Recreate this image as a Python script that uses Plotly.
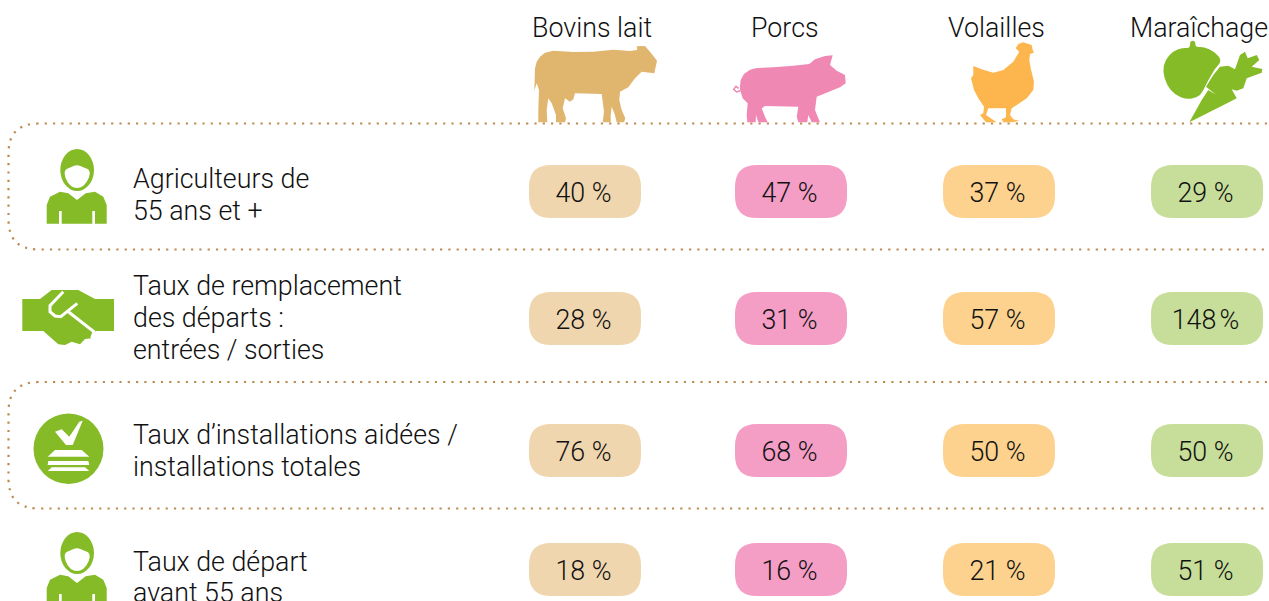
import plotly.graph_objects as go

# ---------- data ----------
species = ["Bovins lait", "Porcs", "Volailles", "Maraîchage"]
row_labels = [["Agriculteurs de", "55 ans et +"],
              ["Taux de remplacement", "des départs :", "entrées / sorties"],
              ["Taux d’installations aidées /", "installations totales"],
              ["Taux de départ", "avant 55 ans"]]
label_line_y = [[179, 211], [286, 318, 350], [435, 467], [562, 593]]
bovins = ["40 %", "28 %", "76 %", "18 %"]
porcs = ["47 %", "31 %", "68 %", "16 %"]
volailles = ["37 %", "57 %", "50 %", "21 %"]
maraichage = ["29 %", "148\u202f%", "50 %", "51 %"]
series = [bovins, porcs, volailles, maraichage]

pill_colors = ["#F0D6AF", "#F49DC5", "#FDD28F", "#C7DE9A"]
col_x = [585, 791, 999, 1207]
header_x = [592, 785, 996.5, 1198.5]
row_y = [191.5, 318.5, 450.5, 569.5]
text_y = [195.5, 322.5, 454.5, 573.5]

COW, PIG, HEN, GREEN, DOT, INK = "#E0B56E", "#F088B4", "#FDB64D", "#84BB27", "#BE8A52", "#111111"
FONT = "Roboto"
SIZE = 26.8
WEIGHT = 300


def poly(points, ox, oy, dy=0, close=True):
    d = "M" + " L".join(f"{ox + x / 3:.1f},{oy + dy + y / 3:.1f}" for x, y in points)
    return d + (" Z" if close else "")


def smooth(points, ox, oy, dy=0):
    """Closed outline drawn through midpoints with quadratic curves."""
    p = [(ox + x / 3, oy + dy + y / 3) for x, y in points]
    n = len(p)
    mid = lambda a, b: ((a[0] + b[0]) / 2, (a[1] + b[1]) / 2)
    s = mid(p[-1], p[0])
    d = f"M{s[0]:.1f},{s[1]:.1f}"
    for i in range(n):
        m = mid(p[i], p[(i + 1) % n])
        d += f" Q{p[i][0]:.1f},{p[i][1]:.1f} {m[0]:.1f},{m[1]:.1f}"
    return d + " Z"


def pill(cx, cy, hw=56, hh=26.5, r=22):
    x0, x1, y0, y1 = cx - hw, cx + hw, cy - hh, cy + hh
    return (f"M{x0 + r},{y0} L{x1 - r},{y0} Q{x1},{y0} {x1},{y0 + r} L{x1},{y1 - r} Q{x1},{y1} {x1 - r},{y1} "
            f"L{x0 + r},{y1} Q{x0},{y1} {x0},{y1 - r} L{x0},{y0 + r} Q{x0},{y0} {x0 + r},{y0} Z")


def band(y0, y1, x0=8.5, x1=1300, r=30):
    return (f"M{x1},{y0 + r} Q{x1 - 3},{y0} {x1 - r - 3},{y0} L{x0 + r},{y0} Q{x0},{y0} {x0},{y0 + r} "
            f"L{x0},{y1 - r} Q{x0},{y1} {x0 + r},{y1} L{x1 - r - 3},{y1} Q{x1 - 3},{y1} {x1},{y1 - r}")


cow = [(45, 205), (50, 185), (60, 170), (75, 158), (100, 152), (160, 156), (220, 155), (280, 149), (330, 153),
       (352, 150), (350, 139), (375, 138), (390, 155), (411, 182), (403, 220), (365, 215), (345, 235), (325, 262),
       (300, 275), (298, 300), (305, 330), (316, 355), (312, 367), (290, 367), (285, 345), (275, 320), (272, 345),
       (272, 367), (248, 367), (252, 335), (245, 282), (165, 280), (160, 298), (150, 305), (135, 295), (128, 325),
       (138, 355), (135, 367), (108, 367), (108, 345), (95, 310), (85, 295), (80, 330), (82, 367), (55, 367),
       (55, 330), (57, 270), (50, 250), (43, 272)]
pig = [(660, 258), (662, 240), (672, 222), (690, 209), (710, 204), (760, 202), (820, 197), (868, 192), (885, 178),
       (915, 168), (938, 166), (930, 195), (950, 212), (975, 225), (977, 250), (960, 262), (890, 290), (885, 330),
       (895, 355), (900, 367), (875, 367), (865, 345), (862, 367), (835, 367), (830, 350), (835, 320), (735, 318),
       (725, 325), (735, 350), (743, 367), (715, 367), (708, 345), (707, 367), (682, 367), (680, 345), (683, 310),
       (668, 295), (660, 270)]
pig_tail = [(660, 272), (650, 276), (641, 268), (648, 259), (656, 265)]
hen = [(220, 198), (245, 208), (280, 218), (310, 210), (340, 185), (358, 155), (347, 145), (355, 132), (370, 127),
       (395, 135), (398, 150), (402, 158), (390, 162), (388, 180), (392, 205), (402, 245), (400, 270), (380, 295),
       (350, 315), (335, 325), (330, 345), (340, 358), (358, 362), (335, 367), (310, 367), (305, 358), (318, 352),
       (318, 325), (265, 325), (258, 345), (280, 360), (290, 367), (258, 367), (240, 345), (250, 340), (252, 320),
       (235, 295), (222, 270), (213, 235), (220, 225)]
apple = [(870, 122), (886, 122), (886, 142), (910, 140), (945, 155), (966, 183), (945, 205), (925, 240), (905, 280),
         (890, 293), (860, 298), (825, 285), (800, 255), (788, 215), (795, 180), (820, 153), (850, 143), (870, 145)]
carrot = [(868, 367), (905, 300), (925, 270), (948, 284), (918, 260), (940, 225), (960, 200), (985, 197), (1005, 208),
          (1020, 165), (1035, 155), (1043, 175), (1070, 165), (1078, 180), (1055, 200), (1087, 207), (1085, 218),
          (1040, 235), (1030, 265), (1010, 272), (995, 268), (1010, 295), (990, 305)]
face = [(193, 165), (210, 158), (231, 148), (252, 158), (270, 165), (268, 190), (250, 215), (231, 220), (212, 215),
        (195, 190)]
body = [(140, 326), (140, 270), (150, 245), (180, 230), (205, 235), (231, 255), (257, 235), (285, 230), (310, 245),
        (320, 270), (320, 326), (285, 326), (285, 288), (277, 288), (277, 326), (185, 326), (185, 288), (177, 288),
        (177, 326)]
hands = [(67, 552), (120, 552), (155, 525), (235, 525), (285, 552), (342, 552), (342, 648), (288, 648), (275, 670),
         (255, 672), (240, 688), (215, 680), (195, 690), (175, 688), (130, 648), (67, 648)]
hook = [(190, 530), (150, 572), (150, 590), (165, 603), (182, 605), (232, 565)]
finger = [(205, 590), (282, 650), (275, 670)]
check = [(165, 185), (185, 178), (208, 200), (238, 155), (248, 152), (218, 225), (198, 225)]
layers = [[(165, 240), (245, 240), (268, 260), (143, 260)],
          [(145, 273), (265, 273), (268, 285), (143, 285)],
          [(155, 292), (255, 292), (268, 303), (143, 303)]]

shapes = []


def fill(path, color):
    shapes.append(dict(type="path", path=path, fillcolor=color, line=dict(width=0), layer="above"))


def stroke(path, color, w):
    shapes.append(dict(type="path", path=path, line=dict(color=color, width=w), layer="above"))


# dotted bands
for y0, y1 in [(123.5, 249.5), (382, 508.5)]:
    shapes.append(dict(type="path", path=band(y0, y1), line=dict(color=DOT, width=2.2, dash="2.2px,6.1px"),
                       layer="below"))

# pills
for xc, color in zip(col_x, pill_colors):
    for yc in row_y:
        shapes.append(dict(type="path", path=pill(xc, yc), fillcolor=color, line=dict(width=0), layer="below"))

# silhouettes
fill(poly(cow, 520, 0), COW)
fill(poly(pig, 520, 0), PIG)
stroke(poly(pig_tail, 520, 0, close=False), PIG, 1.5)
fill(poly(hen, 900, 0), HEN)
fill(smooth(apple, 900, 0), GREEN)
fill(poly(carrot, 900, 0), GREEN)

# people
for dy in (0, 383):
    shapes.append(dict(type="circle", x0=60.3, x1=94, y0=149 + dy, y1=191 + dy, fillcolor=GREEN,
                       line=dict(width=0), layer="above"))
    fill(smooth(face, 0, 115, dy), "white")
    fill(poly(body, 0, 115, dy), GREEN)

# handshake
fill(poly(hands, 0, 115), GREEN)
stroke(poly(hook, 0, 115, close=False), "white", 3)
stroke(poly(finger, 0, 115, close=False), "white", 3)

# check badge
shapes.append(dict(type="circle", x0=33.5, x1=103.5, y0=413.5, y1=484, fillcolor=GREEN, line=dict(width=0),
                   layer="above"))
fill(poly(check, 0, 370), "white")
for layer in layers:
    fill(poly(layer, 0, 370), "white")

fig = go.Figure()
for xc, values in zip(col_x, series):
    fig.add_trace(go.Scatter(x=[xc - 1.5] * len(values), y=text_y, text=values, mode="text", cliponaxis=False,
                             textposition="middle center", hoverinfo="skip", showlegend=False,
                             textfont=dict(family=FONT, size=SIZE, color=INK, weight=WEIGHT)))

ann = []
for x, s in zip(header_x, species):
    ann.append(dict(x=x, y=27.5, text=s, showarrow=False, xanchor="center", yanchor="middle",
                    font=dict(family=FONT, size=SIZE, color=INK, weight=WEIGHT)))
for lines, ys in zip(row_labels, label_line_y):
    for s, y in zip(lines, ys):
        ann.append(dict(x=131, y=y, text=s, showarrow=False, xanchor="left", yanchor="middle", align="left",
                        font=dict(family=FONT, size=SIZE, color=INK, weight=WEIGHT)))

fig.update_layout(width=1269, height=601, margin=dict(l=0, r=0, t=0, b=0), paper_bgcolor="white",
                  plot_bgcolor="white", shapes=shapes, annotations=ann, hovermode=False, dragmode=False,
                  xaxis=dict(range=[0, 1269], visible=False, fixedrange=True),
                  yaxis=dict(range=[601, 0], visible=False, fixedrange=True))
fig.write_html("out.html", config=dict(displayModeBar=False),
               post_script="document.body.style.margin='0';document.body.style.overflow='hidden';")
